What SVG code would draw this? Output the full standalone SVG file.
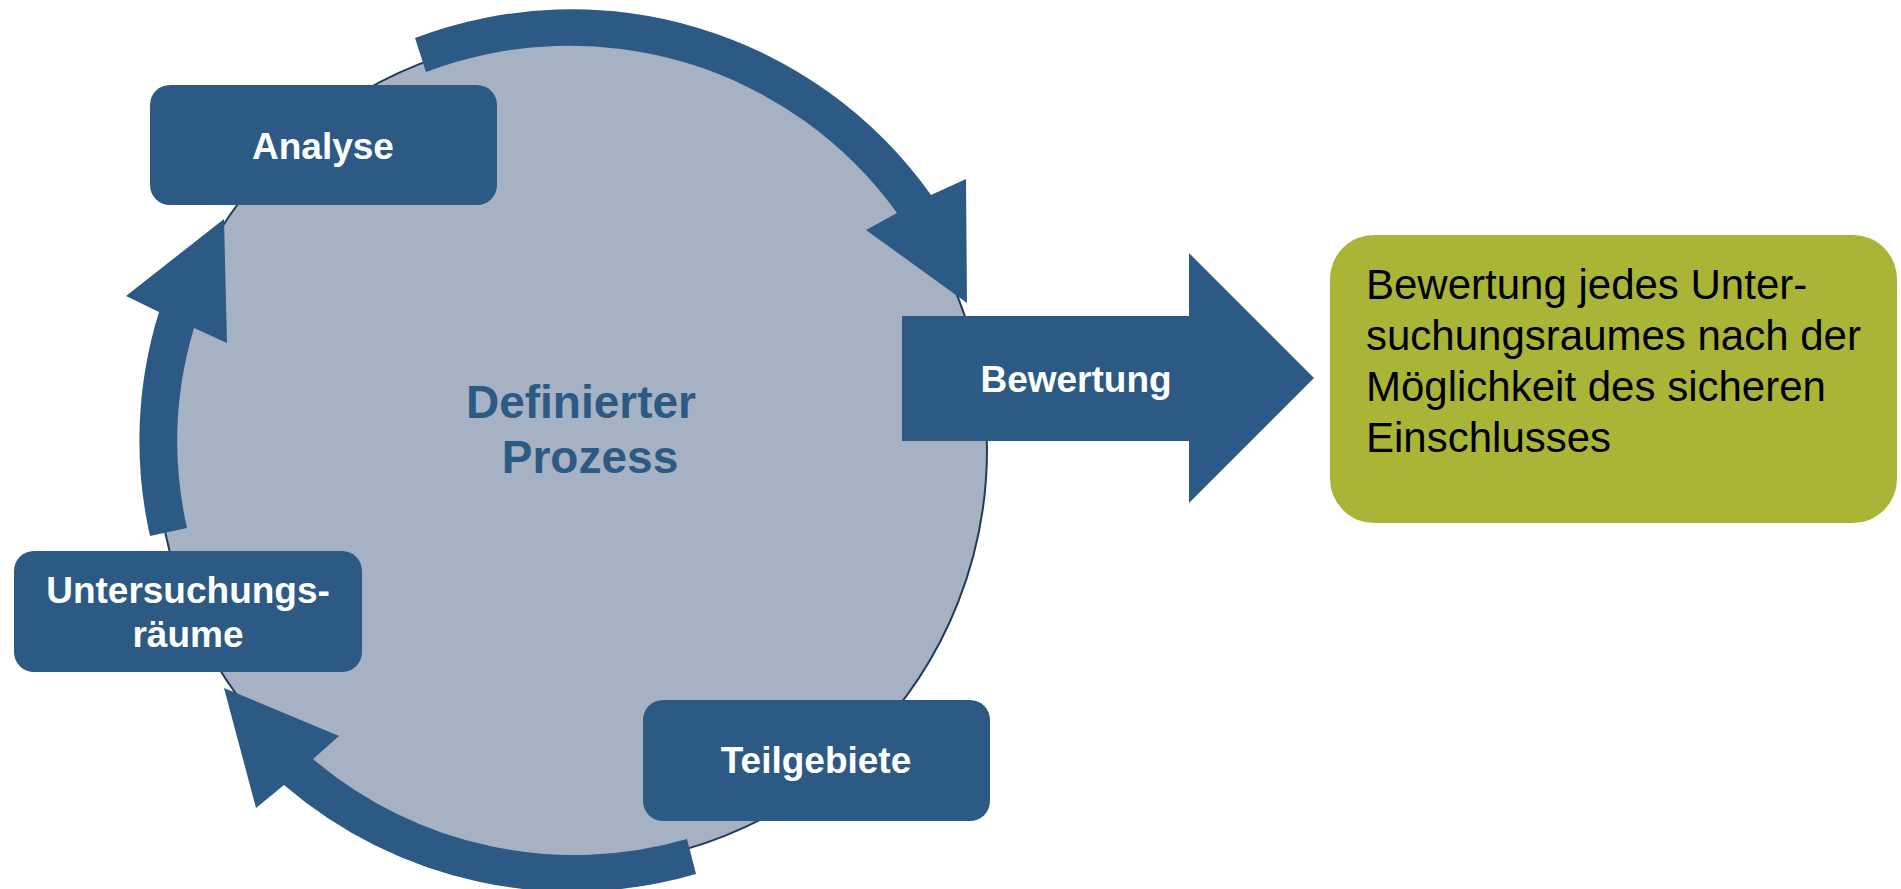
<svg xmlns="http://www.w3.org/2000/svg" width="1901" height="889" viewBox="0 0 1901 889">
  <style>
    .blue { fill: #2c5a85; }
    .box { fill: #2c5a85; }
    .lbl { font-family: "Liberation Sans", Arial, sans-serif; font-weight: bold; font-size: 37px; fill: #ffffff; text-anchor: middle; }
    .center { font-family: "Liberation Sans", Arial, sans-serif; font-weight: bold; font-size: 46px; fill: #2c5a85; text-anchor: middle; }
    .desc { font-family: "Liberation Sans", Arial, sans-serif; font-size: 42px; fill: #000000; }
  </style>
  <rect width="1901" height="889" fill="#ffffff"/>

  <g id="process-circle">
    <circle cx="572" cy="450" r="415" fill="#a7b1c4" stroke="#1f3c5a" stroke-width="2"/>
    <text class="center" x="581" y="418">Definierter</text>
    <text class="center" x="590" y="473">Prozess</text>
  </g>

  <g id="connectors">
    <path class="blue" d="M415,38 A441,441 0 0 1 931,195 L966,179 L967,303 L866,230 L897,213 A404,404 0 0 0 426,72 Z"/>
    <path class="blue" d="M150,536 A433,433 0 0 1 159,312 L126,296 L224,219 L227,343 L194,328 A395,395 0 0 0 187,528 Z"/>
    <path class="blue" d="M696,874 A442,442 0 0 1 284,785 L256,808 L224,688 L339,736 L313,759 A404,404 0 0 0 687,839 Z"/>
  </g>

  <g id="analyse">
    <rect class="box" x="150" y="85" width="347" height="120" rx="20"/>
    <text class="lbl" x="323" y="159">Analyse</text>
  </g>

  <g id="untersuchungsraeume">
    <rect class="box" x="14" y="551" width="348" height="121" rx="20"/>
    <text class="lbl" x="188" y="603">Untersuchungs-</text>
    <text class="lbl" x="188" y="647">räume</text>
  </g>

  <g id="teilgebiete">
    <rect class="box" x="643" y="700" width="347" height="121" rx="20"/>
    <text class="lbl" x="816" y="773">Teilgebiete</text>
  </g>

  <g id="bewertung">
    <path class="blue" d="M902,316 L1189,316 L1189,253 L1314,378 L1189,503 L1189,441 L902,441 Z"/>
    <text class="lbl" x="1076" y="392">Bewertung</text>
  </g>

  <g id="ergebnis">
    <rect x="1330" y="235" width="567" height="288" rx="44" fill="#aab538"/>
    <text class="desc" x="1366" y="299">Bewertung jedes Unter-</text>
    <text class="desc" x="1366" y="350">suchungsraumes nach der</text>
    <text class="desc" x="1366" y="401">Möglichkeit des sicheren</text>
    <text class="desc" x="1366" y="452">Einschlusses</text>
  </g>
</svg>
